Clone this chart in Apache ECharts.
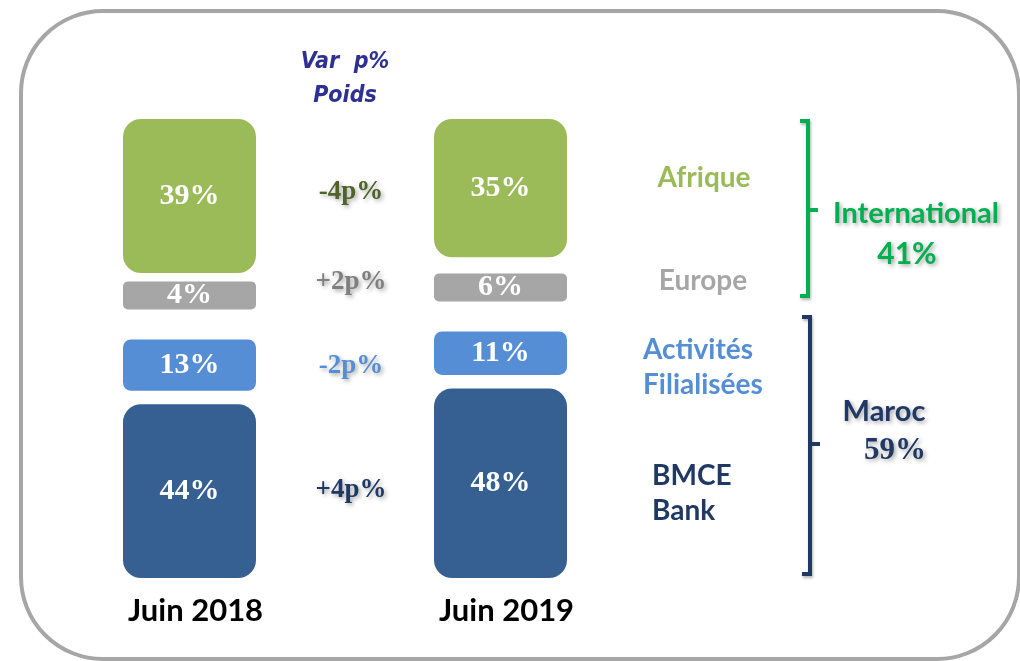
<!DOCTYPE html>
<html>
<head>
<meta charset="utf-8">
<script src="https://cdn.jsdelivr.net/npm/echarts@6/dist/echarts.min.js"></script>
<style>
  html, body { margin: 0; padding: 0; background: #fff; }
  #main { width: 1020px; height: 661px; }
</style>
</head>
<body>
<div id="main"></div>
<script>
// données
var years = ['Juin 2018', 'Juin 2019']
var segments = ['BMCE Bank', 'Activités Filialisées', 'Europe', 'Afrique']
var bmce = [44, 48]
var filiales = [13, 11]
var europe = [4, 6]
var afrique = [39, 35]
var variations = ['+4p%', '-2p%', '+2p%', '-4p%']   // même ordre que segments
var groupNames = ['Maroc', 'International']
var groupShares = ['59%', '41%']

var colors = ['#376092', '#558ED5', '#A6A6A6', '#9BBB59']
var varColors = ['#1F3864', '#558ED5', '#7F7F7F', '#4F6228']
// espaces entre les blocs (unités de l'axe)
var gaps = [3.4, 7.6, 5.2]

var chart = echarts.init(document.getElementById('main'))
var values = [bmce, filiales, europe, afrique]
var radii = [18, 8, 5, 18]

var series = []
values.forEach(function (vals, s) {
    series.push({
        type: 'bar',
        name: segments[s],
        stack: 'total',
        barWidth: 133,
        barMinHeight: s == 2 ? 28 : 0,
        data: vals,
        itemStyle: { color: colors[s], borderRadius: radii[s] },
        label: {
            show: true,
            position: 'inside',
            color: '#fff',
            fontFamily: 'Liberation Serif',
            fontWeight: 'bold',
            fontSize: 30,
            formatter: '{c}%'
        }
    })
    if (s < 3) {
        series.push({
            type: 'bar',
            stack: 'total',
            barWidth: 133,
            silent: true,
            data: years.map(function () { return gaps[s] }),
            itemStyle: { color: 'transparent' },
            label: { show: false }
        })
    }
})

var total = 100 + gaps[0] + gaps[1] + gaps[2]

chart.setOption({
    animation: false,
    grid: { left: 34, width: 622, top: 119, bottom: 83 },
    xAxis: {
        type: 'category', data: years,
        axisLine: { show: false }, axisTick: { show: false }, splitLine: { show: false },
        axisLabel: {
            margin: 17,
            padding: [0, 0, 0, 12],
            color: '#000',
            fontFamily: 'Lato',
            fontWeight: 'bold',
            fontSize: 31
        }
    },
    yAxis: { type: 'value', min: 0, max: total, show: false, splitLine: { show: false } },
    series: series
})

// milieu d'un segment (en unités) pour une année
function segMid(i, s) {
    var base = 0
    for (var k = 0; k < s; k++) base += values[k][i] + gaps[k]
    return base + values[s][i] / 2
}
function py(v) { return chart.convertToPixel({ gridIndex: 0 }, [0, v])[1] }
function px(i) { return chart.convertToPixel({ gridIndex: 0 }, [i, 0])[0] }

var shadow = { textShadowColor: 'rgba(0,0,0,0.35)', textShadowBlur: 4, textShadowOffsetX: 2, textShadowOffsetY: 2 }
var g = []

// cadre
g.push({ type: 'rect', shape: { x: 21, y: 11, width: 998, height: 648, r: 82 },
    style: { fill: 'none', stroke: '#A6A6A6', lineWidth: 4 }, z: -1 })

// en-tête
g.push({ type: 'text', x: 345, y: 62, style: { text: 'Var  p%', fill: '#2E3192', fontFamily: 'DejaVu Sans Condensed',
    fontStyle: 'italic', fontWeight: 'bold', fontSize: 23, align: 'center', verticalAlign: 'middle' } })
g.push({ type: 'text', x: 345, y: 96, style: { text: 'Poids', fill: '#2E3192', fontFamily: 'DejaVu Sans Condensed',
    fontStyle: 'italic', fontWeight: 'bold', fontSize: 23, align: 'center', verticalAlign: 'middle' } })

// variations
var varX = (px(0) + px(1)) / 2 + 6
var varDy = [3, 7, -14, 0]
variations.forEach(function (t, s) {
    var y = py((segMid(0, s) + segMid(1, s)) / 2) + varDy[s]
    g.push({ type: 'text', x: varX, y: y, style: Object.assign({ text: t, fill: varColors[s], fontFamily: 'Liberation Serif',
        fontWeight: 'bold', fontSize: 27, align: 'center', verticalAlign: 'middle' }, shadow) })
})

// libellés des segments
var segLabel = [
    { text: 'BMCE\nBank', x: 652, align: 'left', dy: 10 },
    { text: 'Activités\nFilialisées', x: 643, align: 'left', dy: 14 },
    { text: 'Europe', x: 703, align: 'center', dy: -9 },
    { text: 'Afrique', x: 704, align: 'center', dy: -10 }
]
segLabel.forEach(function (l, s) {
    g.push({ type: 'text', x: l.x, y: py(segMid(1, s)) + l.dy, style: { text: l.text, fill: s == 0 ? '#1F3864' : colors[s],
        fontFamily: 'Lato', fontWeight: 'bold', fontSize: 28, lineHeight: 35, align: l.align, verticalAlign: 'middle' } })
})

// accolades
function bracket(yTop, yBot, x, color) {
    return {
        type: 'polyline',
        shape: { points: [[x - 8, yTop], [x, yTop], [x, yBot], [x - 8, yBot]] },
        style: { stroke: color, lineWidth: 4, fill: 'none', shadowColor: 'rgba(0,0,0,0.3)', shadowBlur: 3, shadowOffsetX: 1, shadowOffsetY: 2 }
    }
}
g.push(bracket(121, 296, 808, '#00B050'))
g.push({ type: 'line', shape: { x1: 808, y1: 210, x2: 818, y2: 210 }, style: { stroke: '#00B050', lineWidth: 4 } })
g.push(bracket(317, 574, 810, '#1F3864'))
g.push({ type: 'line', shape: { x1: 810, y1: 444, x2: 820, y2: 444 }, style: { stroke: '#1F3864', lineWidth: 4 } })

g.push({ type: 'text', x: 916, y: 214, style: Object.assign({ text: groupNames[1], fill: '#00B050', fontFamily: 'Lato',
    fontWeight: 'bold', fontSize: 29, align: 'center', verticalAlign: 'middle' }, shadow) })
g.push({ type: 'text', x: 907, y: 254, style: Object.assign({ text: groupShares[1], fill: '#00B050', fontFamily: 'Lato',
    fontWeight: 'bold', fontSize: 30, align: 'center', verticalAlign: 'middle' }, shadow) })
g.push({ type: 'text', x: 884, y: 412, style: Object.assign({ text: groupNames[0], fill: '#1F3864', fontFamily: 'Lato',
    fontWeight: 'bold', fontSize: 29, align: 'center', verticalAlign: 'middle' }, shadow) })
g.push({ type: 'text', x: 895, y: 451, style: Object.assign({ text: groupShares[0], fill: '#1F3864', fontFamily: 'Liberation Serif',
    fontWeight: 'bold', fontSize: 31, align: 'center', verticalAlign: 'middle' }, shadow) })

chart.setOption({ graphic: g })
</script>
</body>
</html>
